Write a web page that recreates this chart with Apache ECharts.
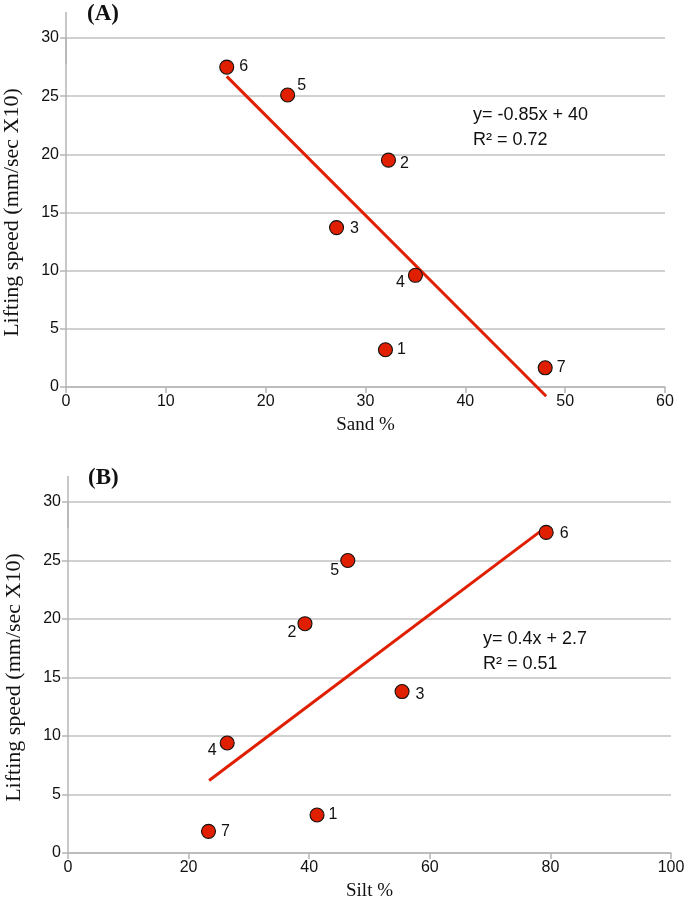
<!DOCTYPE html>
<html>
<head>
<meta charset="utf-8">
<script src="https://cdn.jsdelivr.net/npm/echarts@6/dist/echarts.min.js"></script>
<style>
html,body{margin:0;padding:0;background:#fff;}
#chart{width:685px;height:900px;}
</style>
</head>
<body>
<div id="chart"></div>
<script>
// ---- Data ----
const pointIds = ['1', '2', '3', '4', '5', '6', '7'];
const sandPct = [32.0, 32.3, 27.1, 35.0, 22.2, 16.1, 48.0];
const siltPct = [41.3, 39.3, 55.4, 26.4, 46.4, 79.3, 23.3];
const liftingSpeed = [3.2, 19.5, 13.7, 9.6, 25.1, 27.5, 1.65];
const liftingSpeedB = [3.25, 19.6, 13.8, 9.4, 25.0, 27.4, 1.85];
const trendA = [[16.1, 26.7], [48.1, -0.8]];
const trendB = [[23.4, 6.2], [78.6, 27.6]];
const yTicks = [0, 5, 10, 15, 20, 25, 30];
const xTicksA = [0, 10, 20, 30, 40, 50, 60];
const xTicksB = [0, 20, 40, 60, 80, 100];
const eqA = ['y= -0.85x + 40', 'R\u00B2 = 0.72'];
const eqB = ['y= 0.4x + 2.7', 'R\u00B2 = 0.51'];

// label placement (pixel offsets from marker centre)
const labelOffA = {'1':[16,0],'2':[16,3],'3':[18,1],'4':[-15,7],'5':[14,-9],'6':[17,0],'7':[16,0]};
const labelOffB = {'1':[16,0],'2':[-13,9],'3':[18,3],'4':[-15,8],'5':[-13,10],'6':[18,1],'7':[17,0]};

const tickFont = 'Liberation Sans Narrow, Arial Narrow, sans-serif';
const serif = 'Liberation Serif, Times New Roman, serif';
const gridColor = '#c2c2c2';
const axisColor = '#b5b5b5';
const red = '#e01e00';

function pts(xs, ys, offs) {
  return pointIds.map((id, i) => ({
    value: [xs[i], ys[i]],
    name: id,
    label: {offset: offs[id]}
  }));
}

function xAxis(idx, ticks, name) {
  return {
    type: 'value', gridIndex: idx,
    min: ticks[0], max: ticks[ticks.length - 1], interval: ticks[1] - ticks[0],
    name: name, nameLocation: 'middle', nameGap: 29,
    nameTextStyle: {fontFamily: serif, fontSize: 19, color: '#111'},
    axisLine: {show: true, onZero: false, lineStyle: {color: axisColor, width: 1.5}},
    axisTick: {show: true, length: 6, lineStyle: {color: axisColor, width: 1.5}},
    axisLabel: {fontFamily: tickFont, fontSize: 16, color: '#111', margin: 7},
    splitLine: {show: false}
  };
}
function yAxis(idx) {
  return {
    type: 'value', gridIndex: idx,
    min: yTicks[0], max: yTicks[yTicks.length - 1], interval: yTicks[1] - yTicks[0],
    name: 'Lifting speed (mm/sec X10)', nameLocation: 'middle', nameGap: 43,
    nameTextStyle: {fontFamily: serif, fontSize: 22, color: '#111'},
    axisLine: {show: true, onZero: false, lineStyle: {color: axisColor, width: 1.5},
      symbol: ['none', 'rect'], symbolSize: [1.5, 52]},
    axisTick: {show: true, length: 6, lineStyle: {color: axisColor, width: 1.5}},
    axisLabel: {fontFamily: tickFont, fontSize: 16, color: '#111', margin: 7},
    splitLine: {show: true, lineStyle: {color: gridColor, width: 1.6}}
  };
}
function scatter(idx, data) {
  return {
    type: 'scatter', xAxisIndex: idx, yAxisIndex: idx, z: 5,
    symbol: 'circle', symbolSize: 14,
    itemStyle: {color: red, borderColor: '#111', borderWidth: 1.1, opacity: 1},
    label: {show: true, position: 'inside', formatter: p => p.name,
      fontFamily: tickFont, fontSize: 16, color: '#111'},
    emphasis: {disabled: true},
    data: data
  };
}
function trend(idx, data) {
  return {
    type: 'line', xAxisIndex: idx, yAxisIndex: idx, z: 3, clip: false,
    symbol: 'none', lineStyle: {color: red, width: 3}, silent: true,
    data: data
  };
}

const chart = echarts.init(document.getElementById('chart'), null, {renderer: 'canvas'});
chart.setOption({
  animation: false,
  backgroundColor: '#fff',
  grid: [
    {left: 66, right: 20, top: 38, height: 349, containLabel: false, outerBoundsMode: 'none'},
    {left: 68, right: 14, top: 502, height: 351, containLabel: false, outerBoundsMode: 'none'}
  ],
  xAxis: [xAxis(0, xTicksA, 'Sand %'), xAxis(1, xTicksB, 'Silt %')],
  yAxis: [yAxis(0), yAxis(1)],
  series: [
    trend(0, trendA), scatter(0, pts(sandPct, liftingSpeed, labelOffA)),
    trend(1, trendB), scatter(1, pts(siltPct, liftingSpeedB, labelOffB))
  ],
  graphic: [
    {type: 'text', left: 87, top: 3, style: {text: '(A)', font: 'bold 23px ' + serif, fill: '#111'}},
    {type: 'text', left: 88, top: 467, style: {text: '(B)', font: 'bold 23px ' + serif, fill: '#111'}},
    {type: 'text', left: 473, top: 103, style: {text: eqA.join('\n'), font: '18px ' + tickFont, fill: '#111', lineHeight: 25}},
    {type: 'text', left: 483, top: 627, style: {text: eqB.join('\n'), font: '18px ' + tickFont, fill: '#111', lineHeight: 25}}
  ]
});
</script>
</body>
</html>
